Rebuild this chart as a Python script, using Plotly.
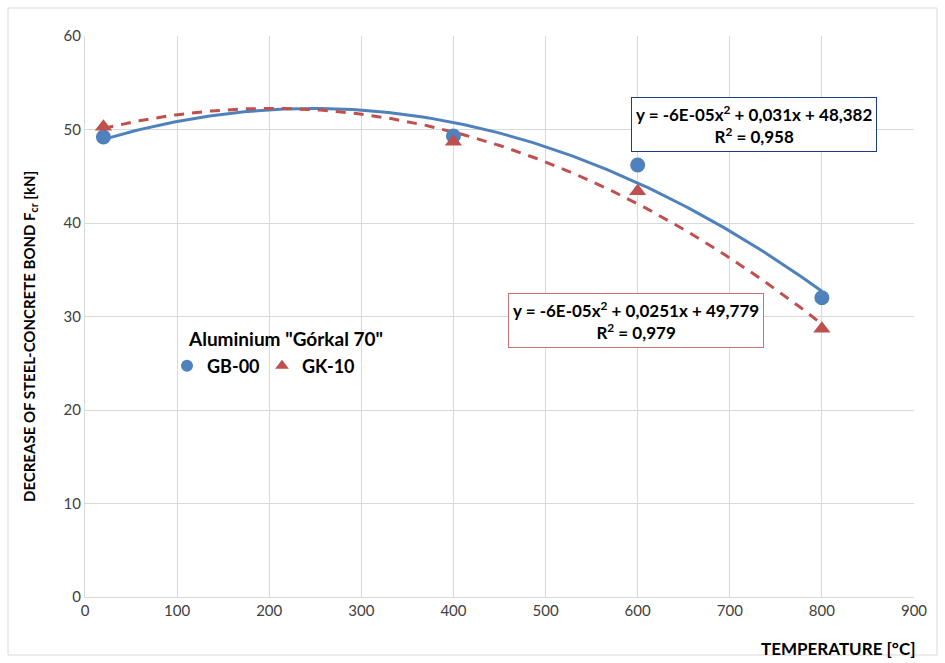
import numpy as np
import plotly.graph_objects as go

# Data
temps = [20, 400, 600, 800]
gb00 = [49.2, 49.3, 46.2, 32.0]
gk10 = [50.3, 48.7, 43.4, 28.7]
legend_title = 'Aluminium "Górkal 70"'
eq_gb = "y = -6E-05x<sup>2</sup> + 0,031x + 48,382<br>R<sup>2</sup> = 0,958"
eq_gk = "y = -6E-05x<sup>2</sup> + 0,0251x + 49,779<br>R<sup>2</sup> = 0,979"

BLUE = "#4f81bd"
RED = "#c0504d"
FONT = "Lato"

W, H = 945, 663
ML, MR, MT, MB = 85, 31, 36, 66
pw, ph = W - ML - MR, H - MT - MB

def px_x(p):
    return (p - ML) / pw

def px_y(p):
    return (H - MB - p) / ph

xs = np.linspace(min(temps), max(temps), 200)
fit_gb = np.polyval(np.polyfit(temps, gb00, 2), xs)
fit_gk = np.polyval(np.polyfit(temps, gk10, 2), xs)

fig = go.Figure()
fig.add_trace(go.Scatter(x=xs, y=fit_gb, mode="lines", line=dict(color=BLUE, width=3),
                         showlegend=False, hoverinfo="skip"))
fig.add_trace(go.Scatter(x=xs, y=fit_gk, mode="lines", line=dict(color=RED, width=3, dash="10px,8px"),
                         showlegend=False, hoverinfo="skip"))
fig.add_trace(go.Scatter(x=temps, y=gb00, mode="markers", name="GB-00",
                         marker=dict(symbol="circle", size=15, color=BLUE)))
fig.add_trace(go.Scatter(x=temps, y=gk10, mode="markers", name="GK-10",
                         marker=dict(symbol="triangle-up", size=15, color=RED)))

fig.update_layout(
    width=W, height=H,
    margin=dict(l=ML, r=MR, t=MT, b=MB),
    paper_bgcolor="white", plot_bgcolor="white",
    font=dict(family=FONT, size=15, color="#404040"),
    legend=dict(
        orientation="h", x=px_x(167), y=px_y(366), xanchor="left", yanchor="middle",
        font=dict(family=FONT, size=18, color="black", weight="bold"),
        bgcolor="rgba(0,0,0,0)", itemsizing="constant",
        entrywidth=50, entrywidthmode="pixels",
    ),
    xaxis=dict(range=[0, 900], dtick=100, showgrid=True, gridcolor="#d9d9d9", gridwidth=1,
               zeroline=False, showline=True, linecolor="#d9d9d9", ticks="",
               tickfont=dict(family=FONT, size=15, color="#404040")),
    yaxis=dict(range=[0, 60], dtick=10, showgrid=True, gridcolor="#d9d9d9", gridwidth=1,
               zeroline=False, showline=True, linecolor="#d9d9d9", ticks="",
               tickfont=dict(family=FONT, size=15, color="#404040")),
    showlegend=True,
)

annotations = [
    dict(text="<b>" + legend_title + "</b>", xref="paper", yref="paper",
         x=px_x(186), y=px_y(338), xanchor="left", yanchor="middle", showarrow=False,
         font=dict(family=FONT, size=19, color="black")),
    dict(text="<b>TEMPERATURE [°C]</b>", xref="paper", yref="paper",
         x=px_x(838), y=px_y(648), xanchor="center", yanchor="middle", showarrow=False,
         font=dict(family=FONT, size=17, color="black")),
    dict(text="<b>DECREASE OF STEEL-CONCRETE BOND F<sub>cr</sub> [kN]</b>", xref="paper", yref="paper",
         x=px_x(30), y=px_y(337), xanchor="center", yanchor="middle", textangle=-90, showarrow=False,
         font=dict(family=FONT, size=15, color="black")),
    dict(text="<b>" + eq_gb + "</b>", xref="paper", yref="paper",
         x=px_x(754), y=px_y(124), xanchor="center", yanchor="middle", showarrow=False,
         align="center", bordercolor="#1f3d7a", borderwidth=1, borderpad=4, bgcolor="white",
         font=dict(family=FONT, size=17, color="black")),
    dict(text="<b>" + eq_gk + "</b>", xref="paper", yref="paper",
         x=px_x(636), y=px_y(320), xanchor="center", yanchor="middle", showarrow=False,
         align="center", bordercolor="#d07070", borderwidth=1, borderpad=4, bgcolor="white",
         font=dict(family=FONT, size=17, color="black")),
]
fig.update_layout(annotations=annotations)

fig.add_shape(type="rect", xref="paper", yref="paper",
              x0=px_x(8), x1=px_x(937), y0=px_y(655), y1=px_y(8),
              line=dict(color="#d9d9d9", width=1), layer="below")

fig.write_html("out.html")
